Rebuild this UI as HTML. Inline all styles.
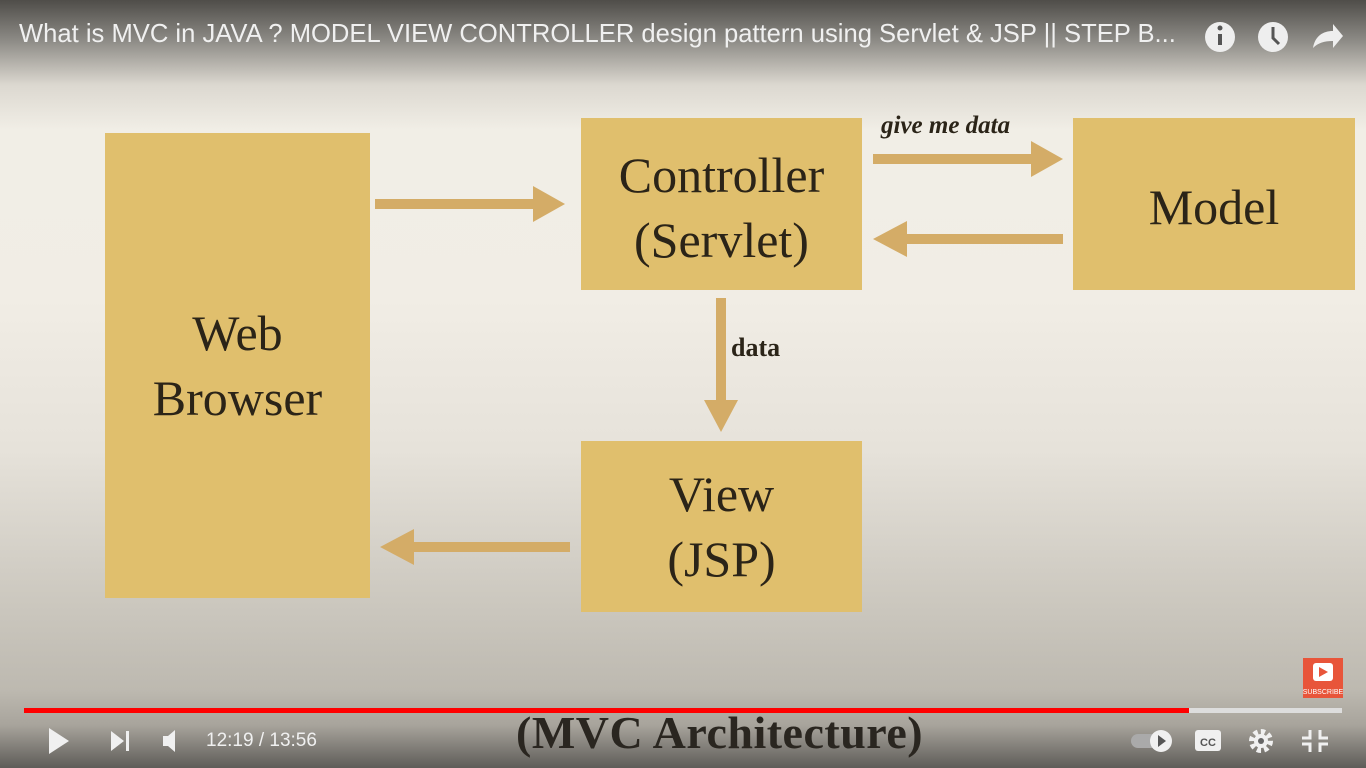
<!DOCTYPE html>
<html><head><style>
body{margin:0;width:1366px;height:768px;overflow:hidden;position:relative;font-family:"Liberation Serif",serif;
background:linear-gradient(to bottom,#4f4d49 0px,#8c8a85 40px,#dcd8d0 85px,#f1eee6 130px,#f1ede5 300px,#e6e2da 450px,#ccc8bf 600px,#bdb9b0 690px,#a8a49c 725px,#5e5c58 768px);}
.b{position:absolute;background:#e0bf6d;color:#2b2418;text-align:center;display:flex;align-items:center;justify-content:center;font-size:50px;line-height:65px}
.t{position:absolute;color:#f0f0f0;font-family:"Liberation Sans",sans-serif}
</style></head><body>
<div class="t" style="left:19px;top:20px;font-size:25.6px;">What is MVC in JAVA ? MODEL VIEW CONTROLLER design pattern using Servlet &amp; JSP || STEP B...</div>
<svg style="position:absolute;left:0;top:0" width="1366" height="768">
<circle cx="1220" cy="37" r="15" fill="#eee"/><rect x="1218" y="34" width="4" height="11" fill="#555"/><circle cx="1220" cy="28" r="2.5" fill="#555"/>
<circle cx="1273" cy="37" r="15" fill="#eee"/><path d="M1273 27v11l6 6" stroke="#555" stroke-width="3" fill="none"/>
<path d="M1313 48c2-12 10-17 20-17v-7l10 12-10 12v-7c-9 0-15 2-20 7z" fill="#eee"/>
<g fill="#d4ac67">
<rect x="375" y="199" width="160" height="10"/><polygon points="533,186 565,204 533,222"/>
<rect x="873" y="154" width="160" height="10"/><polygon points="1031,141 1063,159 1031,177"/>
<rect x="905" y="234" width="158" height="10"/><polygon points="907,221 873,239 907,257"/>
<rect x="716" y="298" width="10" height="104"/><polygon points="704,400 721,432 738,400"/>
<rect x="412" y="542" width="158" height="10"/><polygon points="414,529 380,547 414,565"/>
</g>
<rect x="24" y="708" width="1165" height="5" fill="#f00"/><rect x="1189" y="708" width="153" height="5" fill="#ddd"/>
<rect x="1303" y="658" width="40" height="40" fill="#e8553a"/><rect x="1313" y="663" width="20" height="18" rx="3" fill="#fff"/><polygon points="1319,667 1328,672 1319,677" fill="#e8553a"/>
<text x="1323" y="694" font-size="7" fill="#fff" text-anchor="middle" font-family="Liberation Sans">SUBSCRIBE</text>
<polygon points="49,728 69,741 49,754" fill="#f0f0f0"/>
<polygon points="111,731 124,741 111,751" fill="#f0f0f0"/><rect x="126" y="731" width="3" height="20" fill="#f0f0f0"/>
<polygon points="163,736 168,736 175,730 175,752 168,746 163,746" fill="#f0f0f0"/>
<rect x="1131" y="734" width="30" height="14" rx="7" fill="#aaa"/><circle cx="1161" cy="741" r="11" fill="#f0f0f0"/><polygon points="1158,735 1166,741 1158,747" fill="#555"/>
<rect x="1195" y="730" width="26" height="21" rx="3" fill="#f0f0f0"/><text x="1208" y="746" font-size="11" font-weight="bold" fill="#555" text-anchor="middle" font-family="Liberation Sans">CC</text>
<circle cx="1261" cy="741" r="9" fill="none" stroke="#f0f0f0" stroke-width="6" stroke-dasharray="4 3"/><circle cx="1261" cy="741" r="7" fill="#f0f0f0"/><circle cx="1261" cy="741" r="3" fill="#666"/>
<path d="M1310 730v8h-8M1320 730v8h8M1310 752v-8h-8M1320 752v-8h8" stroke="#f0f0f0" stroke-width="3" fill="none"/>
</svg>
<div class="b" style="left:105px;top:133px;width:265px;height:465px">Web<br>Browser</div>
<div class="b" style="left:581px;top:118px;width:281px;height:172px;padding-top:8px;box-sizing:border-box">Controller<br>(Servlet)</div>
<div class="b" style="left:1073px;top:118px;width:282px;height:172px;padding-top:6px;box-sizing:border-box">Model</div>
<div class="b" style="left:581px;top:441px;width:281px;height:171px">View<br>(JSP)</div>
<div style="position:absolute;left:881px;top:112px;font-size:25px;font-style:italic;font-weight:bold;color:#2b2418">give me data</div>
<div style="position:absolute;left:731px;top:333px;font-size:26px;font-weight:bold;color:#2b2418">data</div>
<div style="position:absolute;left:516px;top:706px;font-size:46px;font-weight:bold;color:#2a2620;letter-spacing:0.5px">(MVC Architecture)</div>
<div class="t" style="left:206px;top:730px;font-size:19px;">12:19 / 13:56</div>
</body></html>
